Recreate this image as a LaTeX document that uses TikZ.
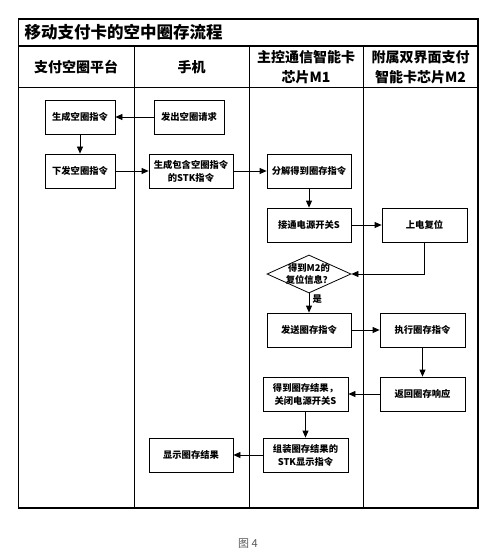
\documentclass[tikz,border=0pt]{standalone}
\usepackage{fontspec}
\newfontfamily\cjk{Noto Sans CJK SC}
\usetikzlibrary{arrows.meta,shapes.geometric}

\begin{document}
\begin{tikzpicture}[x=1pt, y=-1pt,
    box/.style={draw, line width=0.8pt, minimum height=34pt, align=center,
      inner sep=1pt, font=\cjk\bfseries\fontsize{9.3}{13}\selectfont},
    lane/.style={align=center, font=\cjk\bfseries\fontsize{14}{20}\selectfont},
    arr/.style={-{Triangle[length=7pt, width=6pt]}, line width=0.8pt}]
    \useasboundingbox (0,0) rectangle (500,548);

    % Frame and lanes
    \draw[line width=1.3pt] (18.5,19) rectangle (478,508);
    \draw[line width=1.3pt] (18.5,46) -- (478,46);
    \draw[line width=1pt] (18.5,88) -- (478,88);
    \foreach \x in {134,249,363}
      \draw[line width=1pt] (\x,46) -- (\x,508);

    \node[anchor=west, font=\cjk\bfseries\fontsize{16.5}{20}\selectfont]
      (title) at (21,32.5) {移动支付卡的空中圈存流程};
    \node[lane] (lanePlat) at (76,67) {支付空圈平台};
    \node[lane] (lanePhone) at (191.5,67) {手机};
    \node[lane] (laneMone) at (306,67) {主控通信智能卡\\芯片M1};
    \node[lane] (laneMtwo) at (420.5,67) {附属双界面支付\\智能卡芯片M2};

    % Boxes
    \node[box, minimum width=70pt] (gen) at (80,117) {生成空圈指令};
    \node[box, minimum width=70pt] (req) at (189,117) {发出空圈请求};
    \node[box, minimum width=70pt] (send) at (80,171) {下发空圈指令};
    \node[box, minimum width=84pt] (stk) at (191,171) {生成包含空圈指令\\的STK指令};
    \node[box, minimum width=84pt] (parse) at (309,171) {分解得到圈存指令};
    \node[box, minimum width=84pt] (power) at (309,225) {接通电源开关S};
    \node[box, minimum width=85pt] (reset) at (424.5,225) {上电复位};

    % Decision
    \node[diamond, draw, line width=0.8pt, minimum width=84pt,
      minimum height=38pt, inner sep=0pt] (check) at (309,274) {};
    \node[font=\cjk\bfseries\fontsize{9.3}{12}\selectfont, align=center]
      (checkText) at (check) {得到M2的\\复位信息？};

    \node[box, minimum width=84pt] (xmit) at (309,330) {发送圈存指令};
    \node[box, minimum width=85pt] (exec) at (422.5,330) {执行圈存指令};
    \node[box, minimum width=85pt] (resp) at (422.5,394) {返回圈存响应};
    \node[box, minimum width=85pt] (result) at (305.5,394) {得到圈存结果，\\关闭电源开关S};
    \node[box, minimum width=85pt] (stkShow) at (305.5,455) {组装圈存结果的\\STK显示指令};
    \node[box, minimum width=84pt] (show) at (191,455) {显示圈存结果};

    % Arrows
    \draw[arr] (req) -- (gen);
    \draw[arr] (gen) -- (send);
    \draw[arr] (send) -- (stk);
    \draw[arr] (stk) -- (parse);
    \draw[arr] (parse) -- (power);
    \draw[arr] (power) -- (reset);
    \draw[arr] (reset.south) |- (check.east);
    \draw[arr] (check.south) -- node[right, pos=0.3,
      font=\cjk\bfseries\fontsize{9.3}{11}\selectfont] (yes) {是} (xmit);
    \draw[arr] (xmit) -- (exec);
    \draw[arr] (exec) -- (resp);
    \draw[arr] (resp) -- (result);
    \draw[arr] (result) -- (stkShow);
    \draw[arr] (stkShow) -- (show);

    % Caption
    \node[font=\cjk\fontsize{11}{13}\selectfont, text=black!65]
      (caption) at (248,543.5) {图 4};
  \end{tikzpicture}
\end{document}
